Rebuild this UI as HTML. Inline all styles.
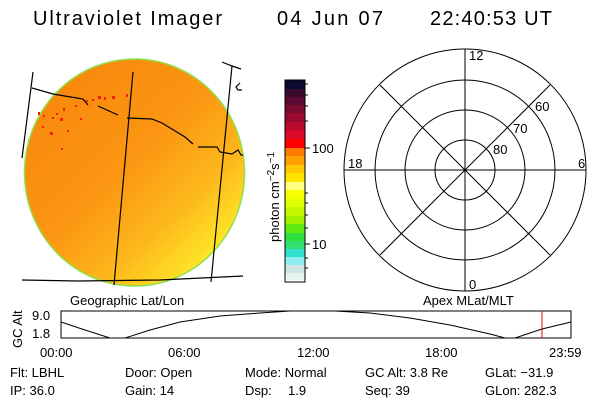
<!DOCTYPE html>
<html><head><meta charset="utf-8"><style>
html,body{margin:0;padding:0;background:#fff;}
svg{display:block;font-family:"Liberation Sans",sans-serif;}
</style></head><body>
<svg width="600" height="400" viewBox="0 0 600 400" xmlns="http://www.w3.org/2000/svg">
<defs>
<linearGradient id="g" x1="0.15" y1="0.2" x2="0.85" y2="0.95">
<stop offset="0" stop-color="#f98a0e"/>
<stop offset="0.4" stop-color="#fb9612"/>
<stop offset="0.7" stop-color="#fdb81c"/>
<stop offset="1" stop-color="#fff22a"/>
</linearGradient>
</defs>
<g font-size="20" fill="#000">
<text x="33" y="25" textLength="189">Ultraviolet Imager</text>
<text x="277" y="25" textLength="106">04 Jun 07</text>
<text x="430" y="25" textLength="122">22:40:53 UT</text>
</g>
<ellipse cx="134.5" cy="172.5" rx="110" ry="113.5" fill="url(#g)" stroke="#8fe04a" stroke-width="1.5"/>
<g fill="#f5200a">
<rect x="60" y="118" width="3" height="3"/><rect x="56" y="113" width="2" height="2"/><rect x="63" y="108" width="2" height="3"/>
<rect x="50" y="132" width="3" height="3"/><rect x="52" y="117" width="2" height="2"/><rect x="75" y="105" width="2" height="2"/>
<rect x="98" y="96" width="3" height="3"/><rect x="104" y="97" width="2" height="3"/><rect x="112" y="96" width="3" height="3"/>
<rect x="126" y="94" width="2" height="3"/><rect x="92" y="99" width="2" height="2"/><rect x="86" y="100" width="2" height="2"/>
<rect x="38" y="112" width="2" height="3"/><rect x="43" y="115" width="2" height="2"/><rect x="61" y="148" width="2" height="2"/>
<rect x="42" y="126" width="2" height="2"/><rect x="80" y="118" width="2" height="2"/><rect x="67" y="130" width="2" height="2"/>
</g>
<g fill="none" stroke="#000" stroke-width="1.2">
<polyline points="33,72 22,158"/>
<polyline points="133,72 114,285"/>
<polyline points="222,62 232,66 241,69"/>
<polyline points="232,66 211,282"/>
<polyline points="22,280 78,281 160,280 243,276"/>
<polyline points="32,88 53,94 83,99 88,105"/>
<polyline points="98,106 118,115"/>
<polyline points="127,118 152,119 162,123 185,137 193,144"/>
<polyline points="198,147 217,147 220,152 232,154 238,150 241,155 243,155"/>
<polyline points="240,83 236,87 238,90 242,90"/>
</g>
<!-- colorbar -->
<g stroke="none">
<rect x="285" y="80" width="20" height="9" fill="#0a0a30"/>
<rect x="285" y="89" width="20" height="8" fill="#3a0a2e"/>
<rect x="285" y="97" width="20" height="8" fill="#5a0a30"/>
<rect x="285" y="105" width="20" height="8" fill="#7a0a30"/>
<rect x="285" y="113" width="20" height="9" fill="#9a0a30"/>
<rect x="285" y="122" width="20" height="8" fill="#ba0a2e"/>
<rect x="285" y="130" width="20" height="9" fill="#dc0a2a"/>
<rect x="285" y="139" width="20" height="9" fill="#ff0000"/>
<rect x="285" y="148" width="20" height="8" fill="#ff7a00"/>
<rect x="285" y="156" width="20" height="9" fill="#ffa000"/>
<rect x="285" y="165" width="20" height="8" fill="#ffc800"/>
<rect x="285" y="173" width="20" height="9" fill="#ffe400"/>
<rect x="285" y="182" width="20" height="8" fill="#ffff80"/>
<rect x="285" y="190" width="20" height="9" fill="#f4ff00"/>
<rect x="285" y="199" width="20" height="8" fill="#e0ff00"/>
<rect x="285" y="207" width="20" height="9" fill="#c4f800"/>
<rect x="285" y="216" width="20" height="8" fill="#a0f000"/>
<rect x="285" y="224" width="20" height="9" fill="#60ec10"/>
<rect x="285" y="233" width="20" height="8" fill="#30e040"/>
<rect x="285" y="241" width="20" height="8" fill="#30e070"/>
<rect x="285" y="249" width="20" height="8" fill="#30e0d0"/>
<rect x="285" y="257" width="20" height="8" fill="#90eef0"/>
<rect x="285" y="265" width="20" height="8" fill="#d0e4e2"/>
<rect x="285" y="273" width="20" height="7" fill="#e8f4ee"/>
<rect x="285" y="280" width="20" height="2" fill="#fff"/>
</g>
<rect x="285" y="80" width="20" height="202" fill="none" stroke="#000"/>
<g stroke="#000">
<line x1="305" y1="84" x2="308" y2="84"/><line x1="305" y1="95" x2="308" y2="95"/><line x1="305" y1="106" x2="308" y2="106"/>
<line x1="305" y1="121" x2="308" y2="121"/><line x1="305" y1="148" x2="310" y2="148"/><line x1="305" y1="193" x2="308" y2="193"/>
<line x1="305" y1="203" x2="308" y2="203"/><line x1="305" y1="215" x2="308" y2="215"/><line x1="305" y1="228" x2="308" y2="228"/>
<line x1="305" y1="244" x2="310" y2="244"/><line x1="305" y1="258" x2="308" y2="258"/><line x1="305" y1="268" x2="308" y2="268"/>
</g>
<g font-size="13">
<text x="312" y="153">100</text>
<text x="312" y="249">10</text>
<text transform="translate(279,242) rotate(-90)" font-size="13">photon cm<tspan dy="-5" font-size="10">−2</tspan><tspan dy="5">s</tspan><tspan dy="-5" font-size="10">−1</tspan></text>
</g>
<!-- polar -->
<g fill="none" stroke="#000" stroke-width="1">
<circle cx="465" cy="170" r="121"/>
<circle cx="465" cy="170" r="90"/>
<circle cx="465" cy="170" r="60"/>
<circle cx="465" cy="170" r="30"/>
<line x1="465" y1="49" x2="465" y2="291"/>
<line x1="344" y1="170" x2="586" y2="170"/>
<line x1="380" y1="85" x2="550" y2="255"/>
<line x1="550" y1="85" x2="380" y2="255"/>
</g>
<g font-size="13">
<text x="469" y="60">12</text>
<text x="348" y="168">18</text>
<text x="578" y="168">6</text>
<text x="469" y="289">0</text>
<text x="535" y="111">60</text>
<text x="513" y="133">70</text>
<text x="493" y="154">80</text>
</g>
<!-- timeline -->
<g font-size="13">
<text x="70" y="305">Geographic Lat/Lon</text>
<text x="423" y="305">Apex MLat/MLT</text>
<text x="32" y="320">9.0</text>
<text x="32" y="338">1.8</text>
<text transform="translate(22,348) rotate(-90)">GC Alt</text>
<text x="40" y="357">00:00</text>
<text x="168" y="357">06:00</text>
<text x="297" y="357">12:00</text>
<text x="425" y="357">18:00</text>
<text x="549" y="357">23:59</text>
<text x="10" y="377">Flt: LBHL</text>
<text x="125" y="377">Door: Open</text>
<text x="245" y="377">Mode: Normal</text>
<text x="365" y="377">GC Alt: 3.8 Re</text>
<text x="485" y="377">GLat: −31.9</text>
<text x="10" y="395">IP: 36.0</text>
<text x="125" y="395">Gain: 14</text>
<text x="245" y="395">Dsp:</text>
<text x="288" y="395">1.9</text>
<text x="365" y="395">Seq: 39</text>
<text x="485" y="395">GLon: 282.3</text>
</g>
<rect x="61" y="311" width="510" height="27" fill="none" stroke="#000"/>
<polyline fill="none" stroke="#000" points="61,322 85,330 110,338 125,338 150,330 180,322 220,316 260,313 290,311 335,311 370,313 410,318 450,325 490,334 505,338 515,338 542,329 571,322"/>
<line x1="542" y1="311" x2="542" y2="338" stroke="#e00000"/>
</svg>
</body></html>
